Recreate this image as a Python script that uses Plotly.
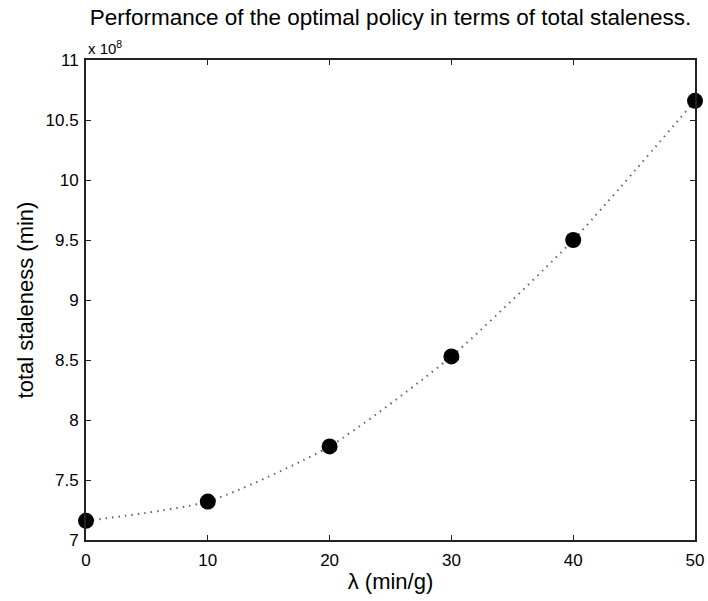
import plotly.graph_objects as go

# Data (total staleness in units of 10^8 min)
lam = [0, 10, 20, 30, 40, 50]
staleness_e8 = [7.16, 7.32, 7.78, 8.53, 9.50, 10.66]
x_ticks = [0, 10, 20, 30, 40, 50]
y_ticks = [7, 7.5, 8, 8.5, 9, 9.5, 10, 10.5, 11]
y_tick_labels = ["7", "7.5", "8", "8.5", "9", "9.5", "10", "10.5", "11"]

FONT = "Liberation Sans, Arial, Helvetica, sans-serif"

fig = go.Figure()
fig.add_trace(go.Scatter(
    x=lam, y=staleness_e8, mode="lines",
    line=dict(color="#666666", width=2, dash="1.5px,5px", shape="spline", smoothing=0.6),
    showlegend=False, hoverinfo="skip",
))
fig.add_trace(go.Scatter(
    x=lam, y=staleness_e8, mode="markers",
    marker=dict(color="black", size=16, line=dict(width=0)),
    showlegend=False, cliponaxis=False,
))

axis_common = dict(
    showline=True, linecolor="#222222", linewidth=1.8, mirror="ticks",
    ticks="inside", ticklen=5, tickwidth=1, tickcolor="#222222",
    showgrid=False, zeroline=False, automargin=False,
    tickfont=dict(family=FONT, size=17, color="black"),
)

fig.update_layout(
    width=708, height=601,
    margin=dict(l=86, r=13, t=60, b=61),
    paper_bgcolor="white", plot_bgcolor="white",
    title=dict(text="Performance of the optimal policy in terms of total staleness.",
               x=0.5, xref="paper", xanchor="center",
               y=1.0, yref="container", yanchor="top", pad=dict(t=9, b=0),
               font=dict(family=FONT, size=22.5, color="black")),
    xaxis=dict(range=[0, 50], tickvals=x_ticks, ticklabelstandoff=4,
               title=dict(text="λ (min/g)", standoff=4,
                          font=dict(family=FONT, size=22, color="black")),
               **axis_common),
    yaxis=dict(range=[7, 11], tickvals=y_ticks, ticktext=y_tick_labels, ticklabelstandoff=2,
               title=dict(text="total staleness (min)", standoff=6,
                          font=dict(family=FONT, size=22, color="black")),
               **axis_common),
    annotations=[dict(text="x 10<sup>8</sup>", xref="paper", yref="paper",
                      x=0.0, y=1.0, xanchor="left", yanchor="bottom", yshift=1,
                      showarrow=False,
                      font=dict(family=FONT, size=15, color="black"))],
)

fig.write_html(
    "out.html",
    config={"displayModeBar": False},
    post_script="document.body.style.margin='0';document.body.style.overflow='hidden';",
)
